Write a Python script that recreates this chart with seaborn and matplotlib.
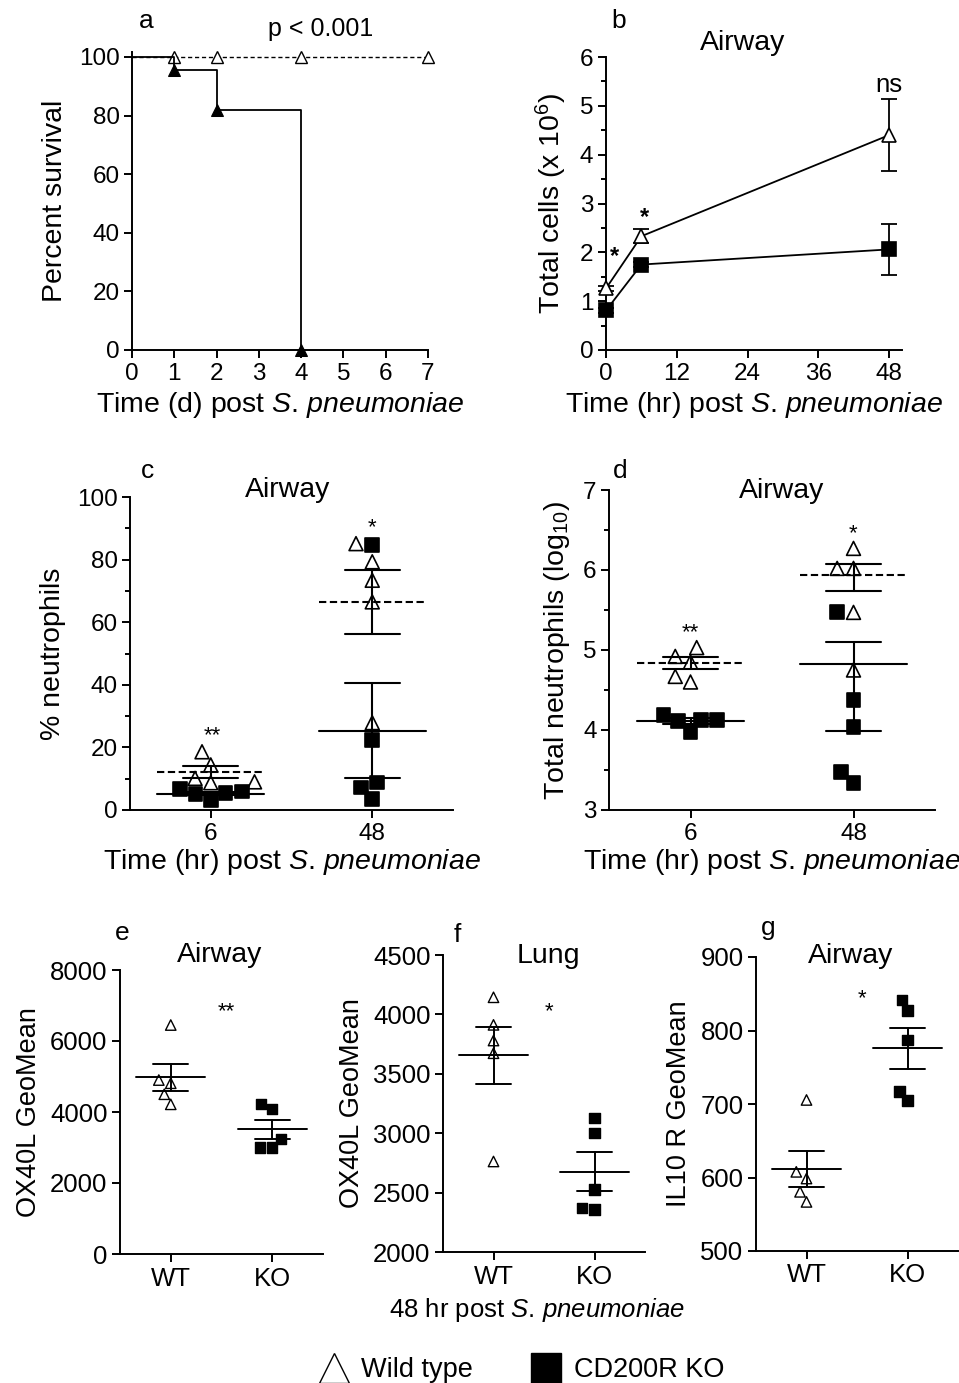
import numpy as np
import pandas as pd
import matplotlib
matplotlib.use("Agg")
import matplotlib.pyplot as plt
import seaborn as sns
from matplotlib.lines import Line2D
from matplotlib.markers import MarkerStyle
from matplotlib.ticker import MultipleLocator

# ---------------- data ----------------
# (a) Kaplan-Meier survival after S. pneumoniae
km_days_wt = [0, 1, 2, 4, 7]
km_surv_wt = [100, 100, 100, 100, 100]
km_days_ko = [0, 1, 2, 4]
km_surv_ko = [100, 95.5, 82, 0]

# (b) total airway cells (x10^6), mean and SEM
cells_hours = [0, 6, 48]
cells_wt_mean = [1.26, 2.33, 4.40]
cells_wt_sem = [0.05, 0.14, 0.74]
cells_ko_mean = [0.81, 1.75, 2.06]
cells_ko_sem = [0.05, 0.05, 0.53]

# (c) % neutrophils in the airway
pct_wt_6 = [14.4, 18.6, 9.0, 10.1, 8.7]
pct_ko_6 = [6.7, 5.3, 3.2, 5.0, 5.9]
pct_wt_48 = [79.3, 85.1, 73.4, 66.5, 27.9]
pct_ko_48 = [84.6, 22.3, 8.8, 7.2, 3.5]

# (d) total airway neutrophils (log10 counts)
logn_wt_6 = [5.03, 4.85, 4.92, 4.67, 4.60]
logn_ko_6 = [4.19, 4.13, 3.98, 4.11, 4.13]
logn_wt_48 = [6.27, 6.02, 6.02, 5.47, 4.75]
logn_ko_48 = [5.47, 4.37, 4.04, 3.47, 3.34]

# (e) OX40L GeoMean, airway, 48 h
ox40l_air_wt = [6450, 4900, 4810, 4500, 4216]
ox40l_air_ko = [4225, 4085, 3240, 3005, 3005]

# (f) OX40L GeoMean, lung, 48 h
ox40l_lung_wt = [4144, 3912, 3780, 3673, 2762]
ox40l_lung_ko = [3127, 3001, 2525, 2370, 2356]

# (g) IL10 R GeoMean, airway, 48 h
il10r_wt = [705.5, 607.7, 598.6, 580.5, 566.8]
il10r_ko = [841.8, 827.3, 787.3, 716.8, 704.5]

time_labels = ["6", "48"]
geno_labels = ["WT", "KO"]
legend_labels = ["Wild type", "CD200R KO"]

# ---------------- style ----------------
sns.set_theme(style="ticks")
plt.rcParams.update({
    "font.family": ["Liberation Sans", "DejaVu Sans"],
    "mathtext.fontset": "custom",
    "mathtext.rm": "Liberation Sans",
    "mathtext.it": "Liberation Sans:italic",
    "mathtext.bf": "Liberation Sans:bold",
    "axes.edgecolor": "black",
    "axes.labelcolor": "black",
    "xtick.color": "black",
    "ytick.color": "black",
    "text.color": "black",
})

W, H = 959, 1383
fig = plt.figure(figsize=(W / 100, H / 100), dpi=100)


def box(l, r, t, b):
    return [l / W, 1 - b / H, (r - l) / W, (b - t) / H]


def ftext(x, y, s, **kw):
    kw.setdefault("ha", "center")
    kw.setdefault("va", "baseline")
    fig.text(x / W, 1 - y / H, s, **kw)


def style(ax, labelsize=17.5):
    sns.despine(ax=ax)
    for s in ("left", "bottom"):
        ax.spines[s].set_linewidth(1.4)
    ax.tick_params(which="major", length=6, width=1.4, labelsize=labelsize, pad=3)
    ax.tick_params(which="minor", length=3.5, width=1.4)


LBL = 20.5
SPN = r"$\mathit{S}$. $\mathit{pneumoniae}$"
XLAB_TIME_D = "Time (d) post " + SPN
XLAB_TIME_H = "Time (hr) post " + SPN

tri = MarkerStyle("^")
TRI_PATH = tri.get_path().transformed(tri.get_transform())
sq = MarkerStyle("s")
SQ_PATH = sq.get_path().transformed(sq.get_transform())


def swarm(ax, df, x, order, size, lw):
    before = len(ax.collections)
    sns.swarmplot(data=df, x=x, y="value", hue="group", order=order,
                  hue_order=["WT", "KO"], palette={"WT": "white", "KO": "black"},
                  size=size, edgecolor="black", linewidth=lw, legend=False,
                  zorder=4, ax=ax)
    for coll in ax.collections[before:]:
        fc = np.array(coll.get_facecolors())
        n = len(coll.get_offsets())
        if n == 0 or len(fc) != n:
            continue
        is_wt = fc[:, 0] > 0.5
        coll.set_paths([TRI_PATH if w else SQ_PATH for w in is_wt])
        fc[is_wt] = (0, 0, 0, 0)
        coll.set_facecolors(fc)
        coll.set_clip_on(False)


def mean_sem(ax, pos, vals, dashed, half=0.33, cap=0.17, lw=1.5, log=False):
    v = np.asarray(vals, float)
    if log:
        v = 10 ** v
    m = v.mean()
    s = v.std(ddof=1) / np.sqrt(len(v))
    lo, hi = m - s, m + s
    if log:
        m, lo, hi = np.log10([m, lo, hi])
    ls = (0, (3.5, 1.7)) if dashed else "-"
    ax.plot([pos - half, pos + half], [m, m], color="black", lw=lw, ls=ls, zorder=2)
    ax.plot([pos, pos], [lo, hi], color="black", lw=lw, zorder=2)
    for yv in (lo, hi):
        ax.plot([pos - cap, pos + cap], [yv, yv], color="black", lw=lw, zorder=2)


# ---------------- (a) survival ----------------
ax_a = fig.add_axes(box(132, 428, 52, 350))
sns.lineplot(x=km_days_wt, y=km_surv_wt, drawstyle="steps-post", color="black",
             lw=1.0, ls=(0, (3, 2)), marker="^", markersize=9, markevery=[1, 2, 3, 4],
             mfc="white", mec="black", mew=1.0, clip_on=False, ax=ax_a)
sns.lineplot(x=km_days_ko, y=km_surv_ko, drawstyle="steps-post", color="black",
             lw=1.3, marker="^", markersize=9, markevery=[1, 2, 3],
             mfc="black", mec="black", clip_on=False, ax=ax_a)
ax_a.set_xlim(0, 7)
ax_a.set_ylim(0, 101.7)
ax_a.set_xticks(range(0, 8))
ax_a.set_yticks(range(0, 101, 20))
style(ax_a)
ax_a.set_xlabel(XLAB_TIME_D, fontsize=LBL, labelpad=4)
ax_a.set_ylabel("Percent survival", fontsize=LBL, labelpad=8)
ax_a.text(4.45, 109.5, "p < 0.001", fontsize=18, ha="center", va="center", clip_on=False)

# ---------------- (b) total cells ----------------
ax_b = fig.add_axes(box(606, 902, 57, 350))
for mean, sem, mk, fill in ((cells_ko_mean, cells_ko_sem, "s", "black"),
                            (cells_wt_mean, cells_wt_sem, "^", "white")):
    ax_b.errorbar(cells_hours, mean, yerr=sem, fmt="none", ecolor="black",
                  elinewidth=1.3, capsize=5.5, capthick=1.3, clip_on=False, zorder=2)
    sns.lineplot(x=cells_hours, y=mean, color="black", lw=1.3, marker=mk,
                 markersize=10, mfc=fill, mec="black", mew=1.2, clip_on=False,
                 zorder=3, ax=ax_b)
ax_b.set_xlim(0, 50.2)
ax_b.set_ylim(0, 6)
ax_b.set_xticks([0, 12, 24, 36, 48])
ax_b.set_yticks(range(0, 7))
ax_b.yaxis.set_minor_locator(MultipleLocator(0.5))
style(ax_b)
ax_b.set_xlabel(XLAB_TIME_H, fontsize=LBL, labelpad=4)
ax_b.set_ylabel(r"Total cells (x 10$^{6}$)", fontsize=LBL, labelpad=8)
ax_b.text(1.5, 1.78, "*", fontsize=17, fontweight="bold", ha="center", va="baseline")
ax_b.text(6.5, 2.58, "*", fontsize=17, fontweight="bold", ha="center", va="baseline")
ax_b.text(48, 5.28, "ns", fontsize=18.5, ha="center", va="baseline")

# ---------------- (c) % neutrophils ----------------
ax_c = fig.add_axes(box(130, 453, 497, 810))
df_c = pd.DataFrame({
    "time": ["6"] * 10 + ["48"] * 10,
    "group": (["WT"] * 5 + ["KO"] * 5) * 2,
    "value": pct_wt_6 + pct_ko_6 + pct_wt_48 + pct_ko_48,
})
swarm(ax_c, df_c, "time", time_labels, 10, 1.2)
mean_sem(ax_c, 0, pct_wt_6, True)
mean_sem(ax_c, 0, pct_ko_6, False)
mean_sem(ax_c, 1, pct_wt_48, True)
mean_sem(ax_c, 1, pct_ko_48, False)
ax_c.set_xlim(-0.5, 1.5)
ax_c.set_ylim(0, 100)
ax_c.set_yticks(range(0, 101, 20))
ax_c.yaxis.set_minor_locator(MultipleLocator(10))
style(ax_c)
ax_c.set_xlabel(XLAB_TIME_H, fontsize=LBL, labelpad=2)
ax_c.set_ylabel("% neutrophils", fontsize=LBL, labelpad=8)
ax_c.text(0.01, 22, "**", fontsize=16, ha="center", va="baseline")
ax_c.text(1, 88.5, "*", fontsize=16, ha="center", va="baseline")

# ---------------- (d) total neutrophils ----------------
ax_d = fig.add_axes(box(609, 935, 490, 810))
df_d = pd.DataFrame({
    "time": ["6"] * 10 + ["48"] * 10,
    "group": (["WT"] * 5 + ["KO"] * 5) * 2,
    "value": logn_wt_6 + logn_ko_6 + logn_wt_48 + logn_ko_48,
})
swarm(ax_d, df_d, "time", time_labels, 10, 1.2)
mean_sem(ax_d, 0, logn_wt_6, True, log=True)
mean_sem(ax_d, 0, logn_ko_6, False, log=True)
mean_sem(ax_d, 1, logn_wt_48, True, log=True)
mean_sem(ax_d, 1, logn_ko_48, False, log=True)
ax_d.set_xlim(-0.5, 1.5)
ax_d.set_ylim(3, 7)
ax_d.set_yticks(range(3, 8))
ax_d.yaxis.set_minor_locator(MultipleLocator(0.5))
style(ax_d)
ax_d.set_xlabel(XLAB_TIME_H, fontsize=LBL, labelpad=2)
ax_d.set_ylabel(r"Total neutrophils (log$_{10}$)", fontsize=LBL, labelpad=8)
ax_d.text(0, 5.15, "**", fontsize=16, ha="center", va="baseline")
ax_d.text(1, 6.39, "*", fontsize=16, ha="center", va="baseline")

# ---------------- (e)-(g) GeoMean panels ----------------
geo_panels = [
    (box(120, 323, 970, 1254), ox40l_air_wt, ox40l_air_ko, (0, 8000), 2000,
     "OX40L GeoMean", "**", 6676),
    (box(443, 645, 955, 1252), ox40l_lung_wt, ox40l_lung_ko, (2000, 4500), 500,
     "OX40L GeoMean", "*", 3978),
    (box(756, 958, 957, 1251), il10r_wt, il10r_ko, (500, 900), 100,
     "IL10 R GeoMean", "*", 836),
]
geo_axes = []
for rect, wt, ko, ylim, step, ylab, star, star_y in geo_panels:
    ax = fig.add_axes(rect)
    df = pd.DataFrame({"geno": ["WT"] * len(wt) + ["KO"] * len(ko),
                       "group": ["WT"] * len(wt) + ["KO"] * len(ko),
                       "value": wt + ko})
    swarm(ax, df, "geno", geno_labels, 7.5, 1.0)
    mean_sem(ax, 0, wt, False, half=0.34, cap=0.17, lw=1.4)
    mean_sem(ax, 1, ko, False, half=0.34, cap=0.17, lw=1.4)
    ax.set_xlim(-0.5, 1.5)
    ax.set_ylim(*ylim)
    ax.set_yticks(np.arange(ylim[0], ylim[1] + 1, step))
    style(ax, labelsize=18.5)
    ax.set_xlabel("")
    ax.set_ylabel(ylab, fontsize=19.5, labelpad=6)
    ax.text(0.55, star_y, star, fontsize=16, ha="center", va="baseline")
    geo_axes.append(ax)

# ---------------- panel letters and titles ----------------
for x, y, s in ((146, 28, "a"), (619, 28, "b"), (147, 478, "c"), (620, 478, "d"),
                (122, 940, "e"), (457, 942, "f"), (768, 935, "g")):
    ftext(x, y, s, fontsize=19)
for x, y, s in ((743, 50, "Airway"), (288, 497, "Airway"), (782, 498, "Airway"),
                (220, 962, "Airway"), (548, 963, "Lung"), (851, 963, "Airway")):
    ftext(x, y, s, fontsize=20.5)

ftext(537, 1317, "48 hr post " + SPN, fontsize=18.5)

handles = [
    Line2D([], [], ls="none", marker="^", markersize=21, mfc="white", mec="black", mew=1.0),
    Line2D([], [], ls="none", marker="s", markersize=21, mfc="black", mec="black"),
]
fig.legend(handles, legend_labels, loc="center", bbox_to_anchor=(521 / W, 1 - 1370 / H),
           ncol=2, frameon=False, fontsize=19.5, handlelength=1.2, handletextpad=0.4,
           columnspacing=2.1, borderpad=0, borderaxespad=0)

fig.savefig("out.png", dpi=100)
